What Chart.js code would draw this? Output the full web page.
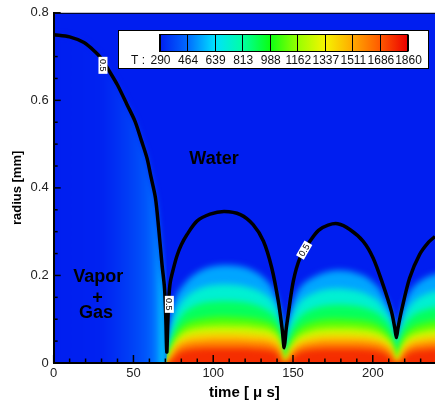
<!DOCTYPE html>
<html>
<head>
<meta charset="utf-8">
<script src="https://cdn.jsdelivr.net/npm/chart.js@4.4.1/dist/chart.umd.min.js"></script>
<style>
  html, body { margin: 0; padding: 0; background: #fff; }
  #wrap { position: relative; width: 435px; height: 401px; }
</style>
</head>
<body>
<div id="wrap"><canvas id="bubbleChart"></canvas></div>
<script>
// bubble radius, the black alpha = 0.5 contour (time in us, radius in mm)
const curveTime = [0, 10, 19, 26, 30, 35, 40, 46, 51, 55, 58.5, 61, 63.8, 65.8, 67.9, 69.5, 70.3, 70.9,
    71.5, 72.2, 73.1, 75, 77.3, 80, 83.5, 89.8, 98, 107, 117, 125, 131.5, 136.7, 140.8, 143.3, 144.5,
    145.7, 147, 150.2, 154.4, 160.6, 166, 172, 178, 185.6, 194, 200.2, 206.4, 211.7, 213.8, 214.8,
    215.8, 217.9, 223.1, 229.4, 235, 239];
const curveRadius = [0.750, 0.745, 0.732, 0.711, 0.695, 0.666, 0.635, 0.590, 0.552, 0.508, 0.468, 0.425, 0.377, 0.308, 0.225, 0.170, 0.100, 0.025,
    0.090, 0.150, 0.185, 0.215, 0.245, 0.270, 0.293, 0.324, 0.340, 0.346, 0.339, 0.316, 0.278, 0.217, 0.141, 0.075, 0.035,
    0.077, 0.111, 0.187, 0.240, 0.278, 0.303, 0.315, 0.318, 0.305, 0.278, 0.240, 0.179, 0.118, 0.080, 0.058,
    0.080, 0.118, 0.194, 0.248, 0.276, 0.289];

// gas temperature inside the collapsing bubble (uniform in radius)
const coreTime = [0, 30, 40, 50, 58, 63, 66, 68.5, 70, 71];
const coreTemp = [290, 300, 335, 375, 420, 470, 530, 610, 700, 780];

// heights (mm) of the isotherms after the first collapse
const hotTime = [70.8, 72, 74, 77, 80, 85, 90, 95, 100, 107, 115, 120, 125, 130, 135, 138, 141, 143, 144.5,
    146, 148, 151, 155, 160, 165, 170, 178, 185, 190, 195, 200, 204, 208, 211.5, 213.5, 214.8,
    216.5, 218.5, 221, 225, 230, 235, 239, 243];
const iso464 = [0.02, 0.07, 0.12, 0.155, 0.172, 0.193, 0.207, 0.216, 0.221, 0.224, 0.222, 0.218, 0.211, 0.2, 0.182, 0.165, 0.132, 0.08, 0.035,
    0.075, 0.11, 0.15, 0.175, 0.19, 0.2, 0.207, 0.212, 0.21, 0.205, 0.198, 0.185, 0.17, 0.145, 0.115, 0.08, 0.055,
    0.085, 0.12, 0.148, 0.172, 0.188, 0.198, 0.203, 0.207];
const iso639 = [0.015, 0.04, 0.08, 0.118, 0.138, 0.157, 0.168, 0.175, 0.178, 0.18, 0.178, 0.175, 0.17, 0.162, 0.15, 0.138, 0.115, 0.07, 0.035,
    0.06, 0.09, 0.12, 0.142, 0.155, 0.163, 0.168, 0.17, 0.168, 0.165, 0.16, 0.15, 0.14, 0.12, 0.1, 0.07, 0.05,
    0.07, 0.095, 0.118, 0.138, 0.152, 0.16, 0.164, 0.167];
const iso813 = [0.01, 0.025, 0.055, 0.088, 0.108, 0.124, 0.133, 0.138, 0.14, 0.141, 0.14, 0.138, 0.134, 0.128, 0.118, 0.108, 0.09, 0.05, 0.022,
    0.04, 0.065, 0.09, 0.108, 0.12, 0.127, 0.131, 0.133, 0.132, 0.13, 0.126, 0.12, 0.112, 0.098, 0.08, 0.055, 0.04,
    0.055, 0.075, 0.093, 0.108, 0.118, 0.124, 0.127, 0.129];
const iso988 = [0.006, 0.018, 0.042, 0.068, 0.083, 0.095, 0.1, 0.103, 0.105, 0.106, 0.105, 0.104, 0.102, 0.099, 0.094, 0.087, 0.072, 0.035, 0.008,
    0.025, 0.045, 0.068, 0.083, 0.092, 0.097, 0.1, 0.101, 0.1, 0.099, 0.097, 0.093, 0.087, 0.075, 0.058, 0.035, 0.02,
    0.035, 0.055, 0.07, 0.083, 0.09, 0.095, 0.097, 0.098];
const iso1162 = [0.003, 0.012, 0.032, 0.054, 0.067, 0.077, 0.081, 0.084, 0.085, 0.086, 0.085, 0.085, 0.083, 0.081, 0.077, 0.071, 0.058, 0.025, 0,
    0.012, 0.032, 0.052, 0.065, 0.073, 0.078, 0.08, 0.081, 0.081, 0.08, 0.078, 0.075, 0.07, 0.06, 0.045, 0.02, 0.005,
    0.02, 0.04, 0.055, 0.066, 0.072, 0.076, 0.078, 0.079];
const iso1337 = [0, 0.007, 0.024, 0.043, 0.054, 0.062, 0.066, 0.068, 0.069, 0.069, 0.069, 0.068, 0.067, 0.065, 0.062, 0.057, 0.046, 0.015, 0,
    0.004, 0.022, 0.04, 0.052, 0.058, 0.062, 0.064, 0.065, 0.065, 0.064, 0.063, 0.06, 0.056, 0.048, 0.035, 0.01, 0,
    0.01, 0.028, 0.043, 0.053, 0.058, 0.061, 0.063, 0.064];
const iso1511 = [0, 0.003, 0.016, 0.033, 0.042, 0.048, 0.05, 0.052, 0.053, 0.053, 0.053, 0.052, 0.051, 0.05, 0.047, 0.043, 0.034, 0.007, 0,
    0, 0.014, 0.03, 0.04, 0.045, 0.048, 0.05, 0.05, 0.05, 0.05, 0.049, 0.047, 0.044, 0.037, 0.025, 0.004, 0,
    0.003, 0.018, 0.032, 0.041, 0.045, 0.048, 0.049, 0.05];
const iso1686 = [0, 0, 0.007, 0.019, 0.027, 0.031, 0.033, 0.034, 0.034, 0.034, 0.034, 0.034, 0.033, 0.032, 0.03, 0.027, 0.02, 0, 0,
    0, 0.005, 0.018, 0.026, 0.03, 0.032, 0.033, 0.033, 0.033, 0.033, 0.032, 0.031, 0.028, 0.022, 0.012, 0, 0,
    0, 0.007, 0.02, 0.027, 0.03, 0.032, 0.033, 0.033];

// contour levels shown on the colour bar
const levelTicks = [290, 464, 639, 813, 988, 1162, 1337, 1511, 1686, 1860];

// text placed on the plot (data coordinates)
const notes = [
    { text: 'Water', t: 100.5, r: 0.467 },
    { text: 'Vapor', t: 28, r: 0.196 },
    { text: '+', t: 27.5, r: 0.148 },
    { text: 'Gas', t: 26.5, r: 0.114 }
];
const contourTags = [
    { t: 30.9, r: 0.680, angle: 90 },
    { t: 72.5, r: 0.134, angle: 90 },
    { t: 157, r: 0.258, angle: -60 }
];

// rainbow palette, one colour per level
const palette = [
    [0, 30, 240], [0, 105, 255], [0, 225, 255], [0, 255, 165], [10, 255, 20],
    [150, 255, 0], [245, 245, 0], [255, 170, 0], [255, 90, 0], [235, 0, 0]
];

function rgb(c) { return 'rgb(' + c.join(',') + ')'; }

function colorAt(temp) {
    if (temp <= levelTicks[0]) return rgb(palette[0]);
    for (let i = 1; i < levelTicks.length; i++) {
        if (temp <= levelTicks[i]) {
            const f = (temp - levelTicks[i - 1]) / (levelTicks[i] - levelTicks[i - 1]);
            return rgb(palette[i - 1].map((v, k) => Math.round(v + (palette[i][k] - v) * f)));
        }
    }
    return rgb(palette[palette.length - 1]);
}

function points(xs, ys) {
    return xs.map((x, i) => ({ x: x, y: ys[i] }));
}

// horizontal gradient for the gas core, positioned through the x scale
function coreFill(c) {
    const chart = c.chart;
    const xs = chart.scales && chart.scales.x;
    if (!chart.chartArea || !xs || !xs.width) return colorAt(290);
    const t0 = coreTime[0], t1 = coreTime[coreTime.length - 1];
    const g = chart.ctx.createLinearGradient(xs.getPixelForValue(t0), 0, xs.getPixelForValue(t1), 0);
    coreTime.forEach((t, i) => g.addColorStop((t - t0) / (t1 - t0), colorAt(coreTemp[i])));
    return g;
}

const isoSets = [
    [1686, iso1686], [1511, iso1511], [1337, iso1337], [1162, iso1162],
    [988, iso988], [813, iso813], [639, iso639], [464, iso464]
];

const datasets = [{
    label: 'radius',
    data: points(curveTime, curveRadius),
    borderColor: '#000',
    borderWidth: 3.5,
    fill: false,
    tension: 0.3
}];

isoSets.forEach(([level, heights]) => {
    const next = levelTicks[levelTicks.indexOf(level) + 1];
    datasets.push({
        label: 'T ' + level,
        data: points(hotTime, heights),
        borderWidth: 0,
        borderColor: 'transparent',
        backgroundColor: colorAt((level + next) / 2),
        fill: { value: -0.1 },
        cubicInterpolationMode: 'monotone'
    });
});

const coreIdx = curveTime.findIndex(t => t > 70.9);
datasets.push({
    label: 'core',
    data: points(curveTime.slice(0, coreIdx), curveRadius.slice(0, coreIdx)),
    borderWidth: 0,
    borderColor: 'transparent',
    backgroundColor: coreFill,
    fill: { value: -0.1 },
    tension: 0.3
});

datasets.push({
    label: 'water',
    data: [{ x: -20, y: 0.95 }, { x: 260, y: 0.95 }],
    borderWidth: 0,
    borderColor: 'transparent',
    backgroundColor: colorAt(290),
    fill: { value: -0.1 }
});

// soften the flood fills so the bands blend like the original contour plot
const softFill = {
    id: 'softFill',
    beforeRender(chart) { chart.ctx.filter = 'blur(3px)'; },
    beforeDraw(chart) { chart.ctx.filter = 'none'; }
};

// inward tick marks, frame, contour tags and text
const overlay = {
    id: 'overlay',
    afterDatasetsDraw(chart) {
        const { ctx, chartArea: a, scales: { x, y } } = chart;
        ctx.save();
        ctx.strokeStyle = '#000';
        ctx.lineWidth = 1.5;
        x.ticks.forEach((tk, i) => {
            if (tk.value % 10 !== 0) return;
            const px = x.getPixelForTick(i);
            const len = tk.value % 50 === 0 ? 8 : 4.5;
            ctx.beginPath();
            ctx.moveTo(px, a.bottom);
            ctx.lineTo(px, a.bottom - len);
            ctx.stroke();
        });
        y.ticks.forEach((tk, i) => {
            const py = y.getPixelForTick(i);
            const major = Math.abs(tk.value * 5 - Math.round(tk.value * 5)) < 1e-6;
            ctx.beginPath();
            ctx.moveTo(a.left, py);
            ctx.lineTo(a.left + (major ? 7 : 4), py);
            ctx.stroke();
        });
        ctx.lineWidth = 1;
        ctx.beginPath();
        ctx.moveTo(a.left, a.top + 0.5);
        ctx.lineTo(a.right, a.top + 0.5);
        ctx.stroke();

        // contour value tags
        ctx.font = '9px "Liberation Sans", Arial, sans-serif';
        ctx.textAlign = 'center';
        ctx.textBaseline = 'middle';
        contourTags.forEach(tag => {
            ctx.save();
            ctx.translate(x.getPixelForValue(tag.t), y.getPixelForValue(tag.r));
            ctx.rotate(tag.angle * Math.PI / 180);
            ctx.fillStyle = '#fff';
            ctx.fillRect(-8.5, -4.5, 17, 9);
            ctx.fillStyle = '#000';
            ctx.fillText('0.5', 0, 0.5);
            ctx.restore();
        });

        ctx.font = 'bold 18px "Liberation Sans", Arial, sans-serif';
        ctx.fillStyle = '#000';
        notes.forEach(n => ctx.fillText(n.text, x.getPixelForValue(n.t), y.getPixelForValue(n.r)));
        ctx.restore();
    },
    afterDraw(chart) {
        // colour bar legend
        const ctx = chart.ctx;
        const box = { x: 118.5, y: 30.5, w: 310, h: 38 };
        const bar = { x: 159.5, y: 34.5, w: 248, h: 17 };
        ctx.save();
        ctx.fillStyle = '#fff';
        ctx.fillRect(box.x, box.y, box.w, box.h);
        ctx.strokeStyle = '#000';
        ctx.lineWidth = 1;
        ctx.strokeRect(box.x, box.y, box.w, box.h);
        const g = ctx.createLinearGradient(bar.x, 0, bar.x + bar.w, 0);
        levelTicks.forEach((v, i) => g.addColorStop(i / (levelTicks.length - 1), colorAt(v)));
        ctx.fillStyle = g;
        ctx.fillRect(bar.x, bar.y, bar.w, bar.h);
        const step = bar.w / (levelTicks.length - 1);
        ctx.beginPath();
        levelTicks.forEach((v, i) => {
            const px = Math.round(bar.x + i * step) + 0.5;
            ctx.moveTo(px, bar.y);
            ctx.lineTo(px, bar.y + bar.h);
        });
        ctx.stroke();
        ctx.strokeRect(bar.x, bar.y, bar.w, bar.h);
        ctx.fillStyle = '#111';
        ctx.font = '12px "Liberation Sans", Arial, sans-serif';
        ctx.textBaseline = 'middle';
        ctx.textAlign = 'left';
        ctx.fillText('T :', 131, 61);
        ctx.textAlign = 'center';
        levelTicks.forEach((v, i) => ctx.fillText(String(v), bar.x + i * step + 1, 61));
        ctx.restore();
    }
};

Chart.defaults.font.family = '"Liberation Sans", Arial, sans-serif';

new Chart(document.getElementById('bubbleChart'), {
    type: 'line',
    data: { datasets: datasets },
    options: {
        responsive: true,
        maintainAspectRatio: false,
        animation: false,
        events: [],
        layout: { padding: { top: 11, right: 0, bottom: -5, left: 2 } },
        elements: { point: { radius: 0, hoverRadius: 0 } },
        plugins: {
            legend: { display: false },
            tooltip: { enabled: false },
            filler: { drawTime: 'beforeDraw', propagate: false }
        },
        scales: {
            x: {
                type: 'linear',
                min: 0,
                max: 239,
                grid: { display: false, drawTicks: false },
                border: { display: true, color: '#000', width: 2 },
                ticks: {
                    stepSize: 10,
                    includeBounds: false,
                    autoSkip: false,
                    maxRotation: 0,
                    padding: 4,
                    color: '#222',
                    font: { size: 13, lineHeight: 1.0 },
                    callback: v => (v % 50 === 0 ? String(v) : '')
                },
                title: {
                    display: true,
                    text: 'time [ \u03bc s]',
                    color: '#000',
                    font: { size: 15, weight: 'bold' },
                    padding: { top: 0, bottom: 4 }
                }
            },
            y: {
                min: 0,
                max: 0.8,
                grid: { display: false, drawTicks: false },
                border: { display: true, color: '#000', width: 2 },
                ticks: {
                    stepSize: 0.05,
                    autoSkip: false,
                    padding: 5,
                    color: '#222',
                    font: { size: 13 },
                    callback: v => (Math.abs(v * 5 - Math.round(v * 5)) < 1e-6 ? String(+v.toFixed(1)) : '')
                },
                title: {
                    display: true,
                    text: 'radius [mm]',
                    color: '#000',
                    font: { size: 13, weight: 'bold' },
                    padding: { top: 8, bottom: 0 }
                }
            }
        }
    },
    plugins: [softFill, overlay]
});
</script>
</body>
</html>
